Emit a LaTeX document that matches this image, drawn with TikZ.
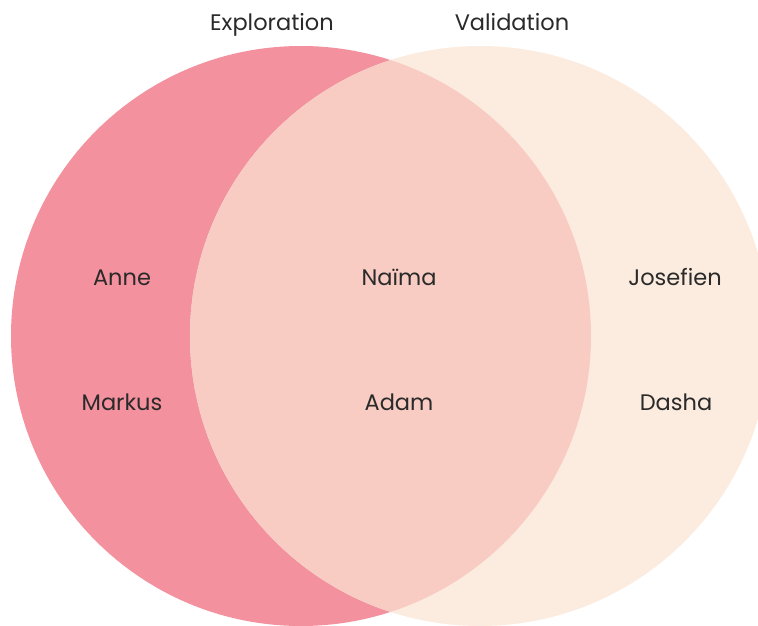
\documentclass[tikz,border=0pt]{standalone}
\usepackage{fontspec}
\setmainfont{Poppins}
\definecolor{explcol}{HTML}{F4919E}
\definecolor{validcol}{HTML}{FCECDF}
\definecolor{bothcol}{HTML}{F8CCC3}
\definecolor{inkcol}{HTML}{2A2A2A}
\begin{document}
\begin{tikzpicture}[x=1pt,y=-1pt,
  lbl/.style={text=inkcol,font=\fontsize{22.5}{24}\selectfont,inner sep=0pt,anchor=base}]
\useasboundingbox (0,0) rectangle (758,626);
\begin{scope}
  \clip (0,0) rectangle (758,626);
  \fill[explcol] (301,336) circle[radius=290];
  \fill[validcol] (480,336) circle[radius=290];
  \begin{scope}
    \clip (301,336) circle[radius=290];
    \fill[bothcol] (480,336) circle[radius=290];
  \end{scope}
\end{scope}
\node[lbl] (expl) at (272,31) {Exploration};
\node[lbl] (valid) at (512,31) {Validation};
\node[lbl] (anne) at (122,285.5) {Anne};
\node[lbl] (markus) at (122,410) {Markus};
\node[lbl] (naima) at (399,285.5) {Naïma};
\node[lbl] (adam) at (399,410) {Adam};
\node[lbl] (josefien) at (675,285.5) {Josefien};
\node[lbl] (dasha) at (676,410) {Dasha};
\end{tikzpicture}
\end{document}
